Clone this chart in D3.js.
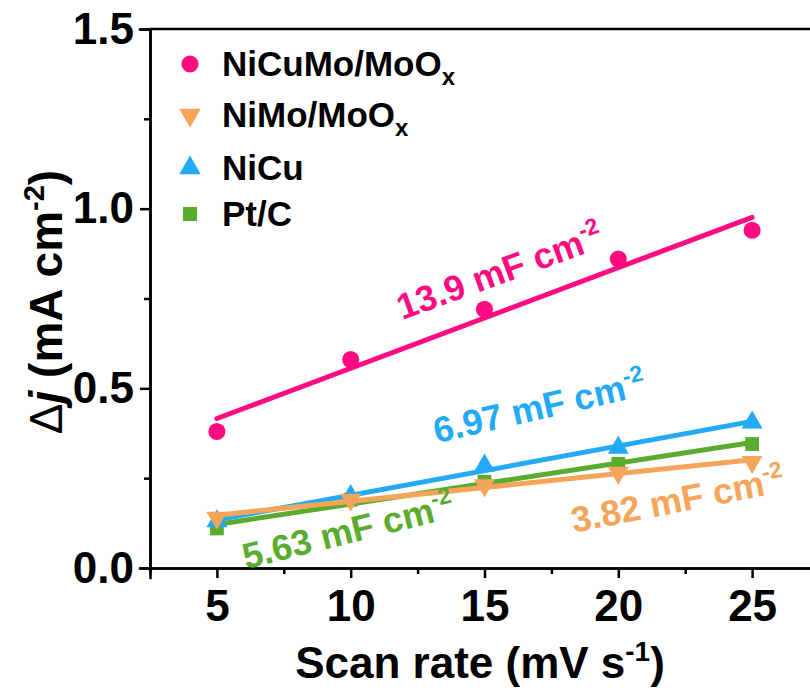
<!DOCTYPE html>
<html>
<head>
<meta charset="utf-8">
<script src="https://cdn.jsdelivr.net/npm/d3@7"></script>
<style>
  body { margin: 0; background: #fff; }
  text { font-family: "Liberation Sans", Arial, sans-serif; font-weight: bold; }
</style>
</head>
<body>
<svg id="chart"></svg>
<script>
// scan rates (mV s-1)
let scanRates = [5, 10, 15, 20, 25];

// delta j values (mA cm-2)
let nicumo = [0.38, 0.58, 0.72, 0.86, 0.94];
let nimo = [0.14, 0.19, 0.23, 0.265, 0.295];
let nicu = [0.13, 0.20, 0.285, 0.335, 0.405];
let ptc = [0.11, 0.19, 0.24, 0.29, 0.345];

let seriesNames = ["NiCuMo/MoO", "NiMo/MoO", "NiCu", "Pt/C"];
let seriesSubs = ["x", "x", "", ""];
let capLabels = ["13.9", "3.82", "6.97", "5.63"];

let xTicks = [5, 10, 15, 20, 25];
let yTicks = [0.0, 0.5, 1.0, 1.5];

let w = 810, h = 691;
let margin = { top: 29, right: -9, bottom: 123, left: 150 };

let colors = ["#ff0a80", "#f5a55a", "#22aaf8", "#5aac2e"];

let xScale = d3.scaleLinear()
    .domain([2.5, 27.5])
    .range([margin.left, w - margin.right]);

let yScale = d3.scaleLinear()
    .domain([0, 1.5])
    .range([h - margin.bottom, margin.top]);

let svg = d3.select("#chart")
    .attr("width", w)
    .attr("height", h);

//least squares fit, gives the straight lines
function fit(ys) {
    let mx = d3.mean(scanRates), my = d3.mean(ys);
    let num = d3.sum(scanRates, (x, i) => (x - mx) * (ys[i] - my));
    let den = d3.sum(scanRates, x => (x - mx) * (x - mx));
    let b = num / den;
    return x => my + b * (x - mx);
}

let data = [nicumo, nimo, nicu, ptc];
let symbols = [d3.symbolCircle, d3.symbolTriangle, d3.symbolTriangle, d3.symbolSquare];
let symSizes = [230, 190, 190, 190];
let rotations = [0, 180, 0, 0];

// draw order: pink, green, blue, orange
let order = [0, 3, 2, 1];

let plot = svg.append("g");

order.forEach(function (k) {
    let f = fit(data[k]);
    plot.append("line")
        .attr("x1", xScale(5)).attr("y1", yScale(f(5)))
        .attr("x2", xScale(25)).attr("y2", yScale(f(25)))
        .attr("stroke", colors[k])
        .attr("stroke-width", 5)
        .attr("stroke-linecap", "round");

    plot.selectAll(null)
        .data(data[k])
        .enter()
        .append("path")
        .attr("d", d3.symbol().type(symbols[k]).size(symSizes[k]))
        .attr("transform", (d, i) => "translate(" + xScale(scanRates[i]) + "," + yScale(d) + ") rotate(" + rotations[k] + ")")
        .attr("fill", colors[k]);
});

// axes
let xAxis = d3.axisBottom(xScale)
    .tickValues(xTicks)
    .tickSize(10)
    .tickPadding(10)
    .tickFormat(d3.format("d"));

let gx = svg.append("g")
    .attr("transform", "translate(0," + (h - margin.bottom) + ")")
    .call(xAxis);

gx.selectAll(".tick text").attr("font-size", 44).attr("dy", "0.75em").attr("font-family", null);

let gxMinor = svg.append("g")
    .attr("transform", "translate(0," + (h - margin.bottom) + ")")
    .call(d3.axisBottom(xScale).tickValues([7.5, 12.5, 17.5, 22.5]).tickSize(6).tickFormat(""));

let yAxis = d3.axisLeft(yScale)
    .tickValues(yTicks)
    .tickSize(10)
    .tickPadding(6)
    .tickFormat(d3.format(".1f"));

let gy = svg.append("g")
    .attr("transform", "translate(" + margin.left + ",0)")
    .call(yAxis);

gy.selectAll(".tick text").attr("font-size", 44).attr("font-family", null);

let gyMinor = svg.append("g")
    .attr("transform", "translate(" + margin.left + ",0)")
    .call(d3.axisLeft(yScale).tickValues([0.25, 0.75, 1.25]).tickSize(6).tickFormat(""));

[gx, gxMinor, gy, gyMinor].forEach(function (g) {
    g.selectAll("path, line").attr("stroke", "#000").attr("stroke-width", 2.5);
    g.select(".domain").attr("stroke-linecap", "square");
});

// top frame line
svg.append("line")
    .attr("x1", margin.left).attr("y1", margin.top)
    .attr("x2", w).attr("y2", margin.top)
    .attr("stroke", "#000").attr("stroke-width", 2.5);

// axis titles
let xt = svg.append("text")
    .attr("x", 480).attr("y", 678)
    .attr("text-anchor", "middle")
    .attr("font-size", 44);
xt.append("tspan").text("Scan rate (mV s");
xt.append("tspan").attr("font-size", 28).attr("dy", -17).text("-1");
xt.append("tspan").attr("dy", 17).text(")");

let yt = svg.append("text")
    .attr("transform", "translate(62,302) rotate(-90)")
    .attr("text-anchor", "middle")
    .attr("font-size", 46);
yt.append("tspan").attr("font-weight", "normal").text("\u0394");
yt.append("tspan").attr("font-style", "italic").text("j");
yt.append("tspan").text(" (mA cm");
yt.append("tspan").attr("font-size", 29).attr("dy", -18).text("-2");
yt.append("tspan").attr("dy", 18).text(")");

// legend
let legendY = [64, 115, 168, 214];
let legend = svg.append("g");
seriesNames.forEach(function (name, k) {
    legend.append("path")
        .attr("d", d3.symbol().type(symbols[k]).size(k == 0 ? 230 : 200))
        .attr("transform", "translate(190," + legendY[k] + ") rotate(" + rotations[k] + ")")
        .attr("fill", colors[k]);
    let t = legend.append("text")
        .attr("x", 222).attr("y", legendY[k] + 12)
        .attr("font-size", 35);
    t.append("tspan").text(name);
    if (seriesSubs[k]) {
        t.append("tspan").attr("font-size", 24).attr("dy", 9).text(seriesSubs[k]);
    }
});

// capacitance labels
let capPos = [[504, 283, -20], [680, 512, -11], [542, 419, -13], [351, 543, -14]];
capLabels.forEach(function (c, k) {
    let t = svg.append("text")
        .attr("transform", "translate(" + capPos[k][0] + "," + capPos[k][1] + ") rotate(" + capPos[k][2] + ")")
        .attr("text-anchor", "middle")
        .attr("font-size", 36)
        .attr("fill", colors[k]);
    t.append("tspan").text(c + " mF cm");
    t.append("tspan").attr("font-size", 23).attr("dy", -15).text("-2");
});
</script>
</body>
</html>
